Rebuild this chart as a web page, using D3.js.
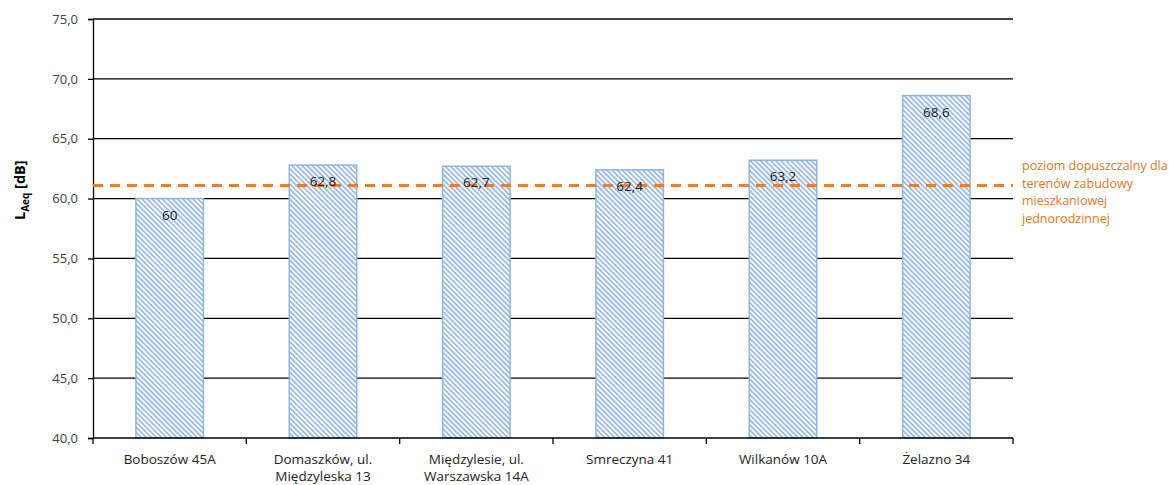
<!DOCTYPE html>
<html>
<head>
<meta charset="utf-8">
<script src="https://cdn.jsdelivr.net/npm/d3@7"></script>
<style>
  body { margin: 0; background: #fff; }
  text { font-family: "Open Sans", "Liberation Sans", sans-serif; }
</style>
</head>
<body>
<div id="chart"></div>
<script>
// data
const categories = ["Boboszów 45A", "Domaszków, ul.|Międzyleska 13", "Międzylesie, ul.|Warszawska 14A",
                    "Smreczyna 41", "Wilkanów 10A", "Żelazno 34"];
const values = [60, 62.8, 62.7, 62.4, 63.2, 68.6];
const valueLabels = ["60", "62,8", "62,7", "62,4", "63,2", "68,6"];
const limitValue = 61.1;
const limitLabel = ["poziom dopuszczalny dla", "terenów zabudowy", "mieszkaniowej", "jednorodzinnej"];
const yTicks = [40, 45, 50, 55, 60, 65, 70, 75];

const W = 1169, H = 485;
const margin = {top: 19, right: 156, bottom: 47, left: 93};
const width = W - margin.left - margin.right,
      height = H - margin.top - margin.bottom;

const svg = d3.select("#chart").append("svg")
    .attr("width", W).attr("height", H);

// hatch pattern for the bars (downward diagonal)
const defs = svg.append("defs");
const pat = defs.append("pattern")
    .attr("id", "hatch")
    .attr("patternUnits", "userSpaceOnUse")
    .attr("width", 3.6).attr("height", 3.6)
    .attr("patternTransform", "rotate(-45)");
pat.append("rect").attr("width", 3.6).attr("height", 3.6).attr("fill", "#fff");
pat.append("rect").attr("width", 1.9).attr("height", 3.6).attr("fill", "#9dbde8");

const g = svg.append("g").attr("transform", `translate(${margin.left},${margin.top})`);

const x = d3.scaleBand().domain(categories).range([0, width]).paddingInner(0.56).paddingOuter(0.28);
const y = d3.scaleLinear().domain([40, 75]).range([height, 0]);

// gridlines
g.append("g")
  .selectAll("line")
  .data(yTicks.slice(1))
  .join("line")
    .attr("x1", 0).attr("x2", width)
    .attr("y1", d => y(d)).attr("y2", d => y(d))
    .attr("stroke", "#000").attr("stroke-width", 1.3);

// Y axis
const yAxis = g.append("g")
  .call(d3.axisLeft(y).tickValues(yTicks).tickSize(5).tickPadding(10)
        .tickFormat(d => d3.format(".1f")(d).replace(".", ",")));
yAxis.select(".domain").attr("stroke", "#000").attr("stroke-width", 1.3);
yAxis.selectAll(".tick line").attr("stroke", "#000").attr("stroke-width", 1.3);
yAxis.selectAll("text").attr("font-size", 13).attr("fill", "#404040")
  .style("font-family", "'Open Sans', sans-serif");

// bars
g.append("g")
  .selectAll("rect")
  .data(values)
  .join("rect")
    .attr("x", (d, i) => x(categories[i]))
    .attr("y", d => y(d))
    .attr("width", x.bandwidth())
    .attr("height", d => height - y(d))
    .attr("fill", "url(#hatch)")
    .attr("stroke", "#8fb4e3")
    .attr("stroke-width", 1.5);

// limit line
g.append("line")
  .attr("x1", 0).attr("x2", width)
  .attr("y1", y(limitValue)).attr("y2", y(limitValue))
  .attr("stroke", "#ed7d31").attr("stroke-width", 3)
  .attr("stroke-dasharray", "10,7");

// value labels
g.append("g")
  .selectAll("text")
  .data(values)
  .join("text")
    .attr("x", (d, i) => x(categories[i]) + x.bandwidth() / 2)
    .attr("y", d => y(d) + 21)
    .attr("text-anchor", "middle")
    .attr("font-size", 13.5)
    .attr("fill", "#222")
    .text((d, i) => valueLabels[i]);

// X axis
const step = width / categories.length;
const xAxis = g.append("g").attr("transform", `translate(0,${height})`);
xAxis.append("line").attr("x1", 0).attr("x2", width).attr("stroke", "#000").attr("stroke-width", 1.5);
xAxis.selectAll(".tk")
  .data(d3.range(categories.length + 1))
  .join("line")
    .attr("class", "tk")
    .attr("x1", i => i * step).attr("x2", i => i * step)
    .attr("y1", 0).attr("y2", 6)
    .attr("stroke", "#000").attr("stroke-width", 1.3);
xAxis.selectAll(".lbl")
  .data(categories)
  .join("text")
    .attr("class", "lbl")
    .attr("x", d => x(d) + x.bandwidth() / 2)
    .attr("text-anchor", "middle")
    .attr("font-size", 13.5)
    .attr("fill", "#222")
    .each(function(d) {
      d.split("|").forEach((line, j) => {
        d3.select(this).append("tspan")
          .attr("x", x(d) + x.bandwidth() / 2)
          .attr("y", 26 + j * 17)
          .text(line);
      });
    });

// y title
const yt = svg.append("text")
  .attr("transform", `translate(25,${margin.top + y(60.7)}) rotate(-90)`)
  .attr("text-anchor", "middle")
  .attr("font-size", 14.5)
  .attr("font-weight", "bold")
  .attr("fill", "#000");
yt.append("tspan").text("L");
yt.append("tspan").attr("font-size", 10).attr("dy", 4).text("Aeq");
yt.append("tspan").attr("dy", -4).text(" [dB]");

// limit legend
svg.append("text")
  .attr("x", 1022)
  .attr("font-size", 12.5)
  .attr("fill", "#e87722")
  .selectAll("tspan")
  .data(limitLabel)
  .join("tspan")
    .attr("x", 1022)
    .attr("y", (d, i) => 170 + i * 17.5)
    .text(d => d);
</script>
</body>
</html>
